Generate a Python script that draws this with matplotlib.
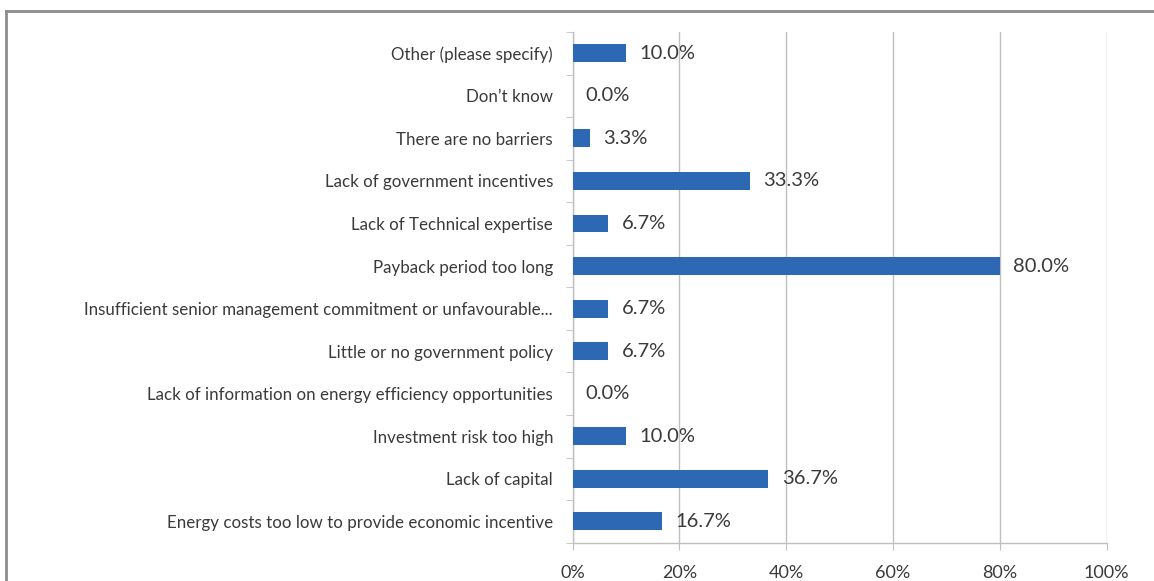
import matplotlib
matplotlib.use("Agg")
import matplotlib.pyplot as plt
from matplotlib.lines import Line2D

categories = [
    "Energy costs too low to provide economic incentive",
    "Lack of capital",
    "Investment risk too high",
    "Lack of information on energy efficiency opportunities",
    "Little or no government policy",
    "Insufficient senior management commitment or unfavourable...",
    "Payback period too long",
    "Lack of Technical expertise",
    "Lack of government incentives",
    "There are no barriers",
    "Don\u2019t know",
    "Other (please specify)",
]
values = [16.7, 36.7, 10.0, 0.0, 6.7, 6.7, 80.0, 6.7, 33.3, 3.3, 0.0, 10.0]
xticks = [0, 20, 40, 60, 80, 100]
xtick_labels = ["0%", "20%", "40%", "60%", "80%", "100%"]

plt.rcParams['font.family'] = ['Lato', 'DejaVu Sans']
text_color = "#3A3A3A"
bar_color = "#2C68B4"
grid_color = "#BFBFBF"

fig = plt.figure(figsize=(11.54, 5.81), dpi=100)
ax = fig.add_axes([572.5 / 1154, 1 - 542.7 / 581, (1106.5 - 572.5) / 1154, (542.7 - 32) / 581])

y = list(range(len(categories)))
ax.barh(y, values, height=0.42, color=bar_color, edgecolor="none", zorder=3)

for yi, v in zip(y, values):
    ax.annotate(f"{v:.1f}%", xy=(v, yi), xytext=(9.5, 0), textcoords="offset points",
                va="center", ha="left", fontsize=14.5, color=text_color, zorder=4)

ax.set_xlim(0, 100)
ax.set_ylim(-0.5, len(categories) - 0.5)
ax.set_xticks(xticks)
ax.set_xticklabels(xtick_labels, fontsize=13, color=text_color)
ax.set_yticks(y)
ax.set_yticklabels(categories, fontsize=12.2, color=text_color)
ax.tick_params(axis="y", length=0, pad=14)
ax.tick_params(axis="x", length=5, color=grid_color, pad=11, direction="out")

# minor ticks on y axis at category boundaries
ax.set_yticks([i - 0.5 for i in range(len(categories) + 1)], minor=True)
ax.tick_params(axis="y", which="minor", length=5, color=grid_color, direction="out")

ax.grid(axis="x", color=grid_color, linewidth=1, zorder=0)
for s in ["top", "right"]:
    ax.spines[s].set_visible(False)
for s in ["left", "bottom"]:
    ax.spines[s].set_color(grid_color)
    ax.spines[s].set_linewidth(1)

# outer chart border (cropped on right/bottom)
fig.add_artist(Line2D([6 / 1154, 6 / 1154], [0, 1 - 11 / 581], transform=fig.transFigure,
                      color="#8C8C8C", linewidth=2))
fig.add_artist(Line2D([6 / 1154, 1], [1 - 11 / 581, 1 - 11 / 581], transform=fig.transFigure,
                      color="#8C8C8C", linewidth=2))

fig.savefig("out.png", dpi=100, facecolor="white")
